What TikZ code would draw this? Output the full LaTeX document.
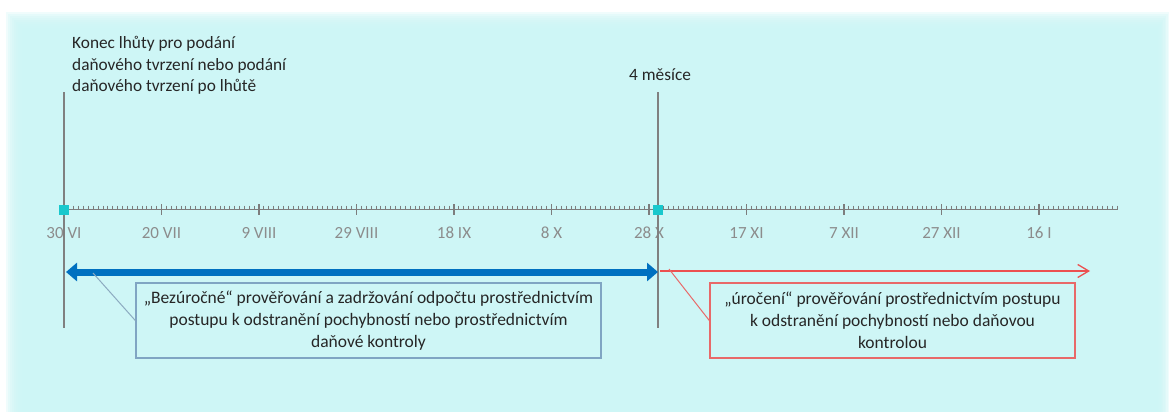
\documentclass[tikz,border=0pt]{standalone}
\usepackage{fontspec}
\setmainfont{Carlito}
\usetikzlibrary{arrows.meta}
\definecolor{bgcyan}{RGB}{206,246,246}
\definecolor{axisgray}{RGB}{125,125,125}
\definecolor{lblgray}{RGB}{140,140,140}
\definecolor{vgray}{RGB}{128,128,128}
\definecolor{sqcyan}{RGB}{25,200,205}
\definecolor{arrblue}{RGB}{0,112,192}
\definecolor{arrred}{RGB}{236,80,80}
\definecolor{boxblue}{RGB}{128,165,195}
\definecolor{boxred}{RGB}{232,105,105}
\definecolor{calloutblue}{RGB}{140,170,192}
\tikzset{
  axisline/.style={draw=axisgray, line width=1.3pt},
  minortick/.style={draw=axisgray, line width=0.9pt},
  majortick/.style={draw=axisgray, line width=1.2pt},
  datelbl/.style={text=lblgray, font=\fontsize{17}{20}\selectfont, inner sep=0pt},
  vline/.style={draw=vgray, line width=2.4pt},
  marksq/.style={fill=sqcyan, draw=none, minimum size=10pt, inner sep=0pt},
  headtext/.style={font=\fontsize{17.3}{21.7}\selectfont, text=black!85, inner sep=0pt, align=left},
  bluebox/.style={draw=boxblue, line width=1.4pt, fill=bgcyan, minimum width=465pt, minimum height=75pt, align=center, inner sep=0pt, font=\fontsize{17.5}{22}\selectfont, text=black!85},
  redbox/.style={draw=boxred, line width=1.4pt, fill=bgcyan, minimum width=365pt, minimum height=75pt, align=center, inner sep=0pt, font=\fontsize{17.5}{22}\selectfont, text=black!85},
  bluearrow/.style={draw=arrblue, line width=7pt, {Triangle[length=11pt,width=18pt]}-{Triangle[length=11pt,width=18pt]}},
  redarrow/.style={draw=arrred, line width=1.3pt, -{Straight Barb[length=11pt,width=13pt,line width=1.3pt]}},
  bluecallout/.style={draw=calloutblue, line width=1pt},
  redcallout/.style={draw=boxred, line width=1pt}
}
\begin{document}
\begin{tikzpicture}[x=1pt,y=-1pt]
\useasboundingbox (0,0) rectangle (1169,412);
\fill[white] (0,0) rectangle (1169,412);
\foreach \i in {0,...,7} {
  \fill[bgcyan, opacity=0.3] (6+2*\i, 12+2*\i) rectangle (1169-1.4*\i, 412);
}
\fill[bgcyan] (22,28) rectangle (1158,412);

% axis
\coordinate (axL) at (64,209.5);
\coordinate (axR) at (1118,209.5);
\foreach \d in {0,...,216} {
  \draw[minortick] (64+4.875*\d, 205.5) -- (64+4.875*\d, 209.5);
}
\draw[axisline] (axL) -- (axR);
\foreach \d/\lab in {0/30 VI, 20/20 VII, 40/9 VIII, 60/29 VIII, 80/18 IX, 100/8 X, 120/28 X, 140/17 XI, 160/7 XII, 180/27 XII, 200/16 I} {
  \draw[majortick] (64+4.875*\d, 204) -- (64+4.875*\d, 215);
  \node[datelbl, anchor=base] (lbl\d) at (64+4.875*\d, 238.5) {\lab};
}

% vertical lines
\coordinate (v1t) at (64,92);
\coordinate (v1b) at (64,328);
\coordinate (v2t) at (658,92);
\coordinate (v2b) at (658,328);
\draw[vline] (v1t) -- (v1b);
\draw[vline] (v2t) -- (v2b);

% markers
\node[marksq] (sq1) at (64,209.5) {};
\node[marksq] (sq2) at (658,209.5) {};

% head texts
\node[headtext, anchor=north west] (konec) at (72,36) {Konec lhůty pro podání\\daňového tvrzení nebo podání\\daňového tvrzení po lhůtě};
\node[headtext, anchor=base west] (mesice) at (629,81) {4 měsíce};

% arrows
\coordinate (ba1) at (66,272);
\coordinate (ba2) at (658,272);
\draw[bluearrow] (ba1) -- (ba2);
\coordinate (ra1) at (660,271);
\coordinate (ra2) at (1090,271);
\draw[redarrow] (ra1) -- (ra2);

% boxes
\node[bluebox] (bb) at (368.5,320.5) {„Bezúročné“ prověřování a zadržování odpočtu prostřednictvím\\postupu k odstranění pochybností nebo prostřednictvím\\daňové kontroly};
\node[redbox] (rb) at (892.5,320.5) {„úročení“ prověřování prostřednictvím postupu\\k odstranění pochybností nebo daňovou\\kontrolou};

% callouts
\coordinate (bc) at (93,273);
\coordinate (rc) at (669,269);
\draw[bluecallout] (bc) -- (bb.west);
\draw[redcallout] (rc) -- (rb.west);
\end{tikzpicture}
\end{document}
